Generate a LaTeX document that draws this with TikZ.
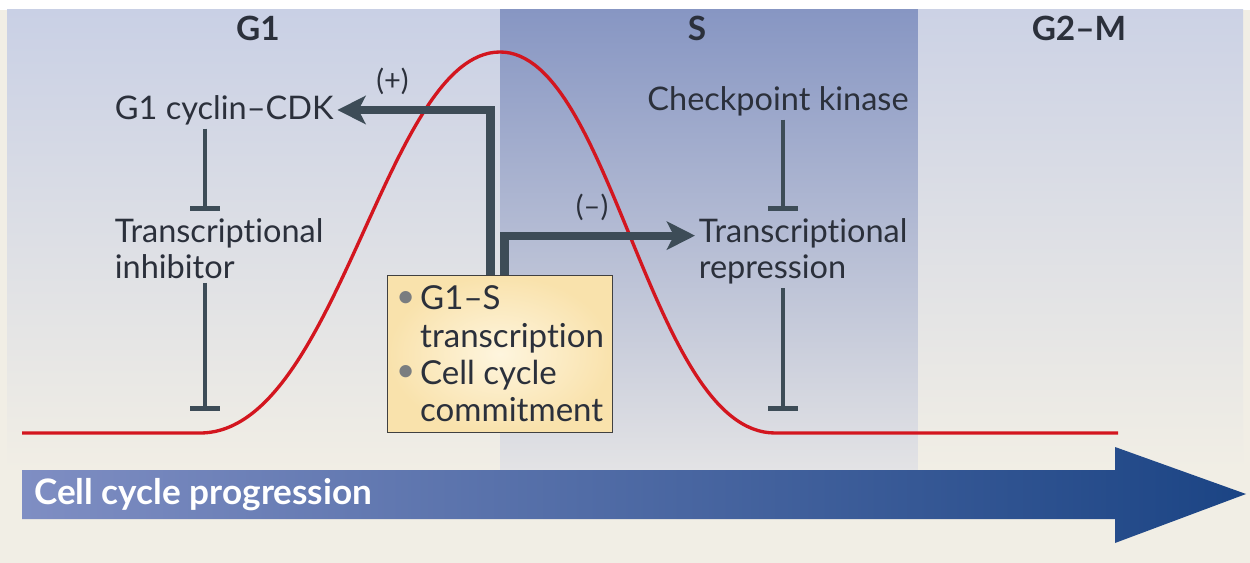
\documentclass[tikz,border=0pt]{standalone}
\usepackage{fontspec}
\setmainfont{Lato}[Ligatures=NoCommon]
\usetikzlibrary{arrows.meta, positioning}

\definecolor{txt}{HTML}{2B303B}
\definecolor{connc}{HTML}{3D4C57}
\definecolor{redc}{HTML}{D3161F}
\definecolor{cream}{HTML}{F1EEE5}
\definecolor{gonetop}{HTML}{C9D0E5}
\definecolor{stop}{HTML}{8796C3}
\definecolor{sbot}{HTML}{E3E3E5}
\definecolor{gtwotop}{HTML}{CCD2E5}
\definecolor{boxin}{HTML}{FEF5DE}
\definecolor{boxout}{HTML}{F9E2AC}
\definecolor{dotgray}{HTML}{7A7D80}
\definecolor{arrl}{HTML}{7F8EC3}
\definecolor{arrr}{HTML}{1B4484}

\newcommand{\gsdot}{\textcolor{dotgray}{\raisebox{0.15ex}{\textbullet}}\hspace{0.15em}}

\begin{document}
\begin{tikzpicture}[x=0.02cm, y=-0.02cm,
        phase/.style={font=\fontsize{19}{21}\selectfont\bfseries, text=txt},
        lbl/.style={font=\fontsize{18.5}{20.5}\selectfont, text=txt,
                    align=left, inner sep=2pt},
        gsbox/.style={rectangle, draw=black!75, line width=0.6pt,
                      inner color=boxin, outer color=boxout, align=left,
                      minimum width=4.5cm, minimum height=3.14cm, text=txt,
                      font=\fontsize{18.8}{21.2}\selectfont},
        conn/.style={draw=connc, line width=4.6pt,
                     -{Stealth[length=16pt, width=16pt, inset=4pt]}},
        inh/.style={draw=connc, line width=2.4pt,
                    -{Bar[width=17pt, line width=3pt]}},
        sign/.style={font=\fontsize{16.5}{18}\selectfont, text=txt},
        prog/.style={font=\fontsize{20}{22}\selectfont\bfseries, text=white}]
      \useasboundingbox (0,0) rectangle (1250,563);
      \fill[white] (0,0) rectangle (1250,563);
      \fill[cream] (0,10) rectangle (1250,563);
      \shade[top color=gonetop, bottom color=cream] (7,10) rectangle (500,470);
      \shade[top color=stop, bottom color=sbot] (500,10) rectangle (918,470);
      \shade[top color=gtwotop, bottom color=cream] (918,10) rectangle (1243,470);

      \node[phase] (g1) at (258,28) {G1};
      \node[phase] (s) at (697,28) {S};
      \node[phase] (g2m) at (1079,28) {G2–M};

      \draw[redc, line width=1.9pt] (22,433) -- (200,433)
        .. controls (338,433) and (385,52) .. (500,52)
        .. controls (612,52) and (650,433) .. (775,433) -- (1118,433);

      \shade[left color=arrl, right color=arrr] (22,470) -- (1115,470)
        -- (1115,447) -- (1246,494) -- (1115,543) -- (1115,519) -- (22,519) -- cycle;
      \node[prog, anchor=west] (ccp) at (28,495) {Cell cycle progression};

      \node[lbl, anchor=west] (cdk) at (111,110) {G1 cyclin–CDK};
      \node[lbl, anchor=north west] (tinh) at (111,215) {Transcriptional\\inhibitor};
      \node[lbl] (chk) at (778,101) {Checkpoint kinase};
      \node[lbl, anchor=north west] (trep) at (695,215) {Transcriptional\\repression};

      \node[gsbox, anchor=north west] (gs) at (387,275)
        {\gsdot G1–S\\\phantom{\gsdot}transcription\\\gsdot Cell cycle\\\phantom{\gsdot}commitment};

      \coordinate (gi) at (205,0);
      \coordinate (si) at (783,0);
      \coordinate (g1low) at (205,411);
      \coordinate (slow) at (783,411);

      \draw[inh] (cdk.south -| gi) -- ([yshift=2pt]tinh.north -| gi);
      \draw[inh] (tinh.south -| gi) -- (g1low);
      \draw[inh] (chk.south -| si) -- ([yshift=2pt]trep.north -| si);
      \draw[inh] (trep.south -| si) -- (slow);

      \draw[conn] ([xshift=-0.19cm]gs.north) |- (cdk.east)
        node[sign, pos=0.82, above=3pt] {(+)};
      \draw[conn] ([xshift=0.09cm]gs.north) |- ([yshift=0.32cm]trep.west)
        node[sign, pos=0.73, above=3pt] {(–)};
    \end{tikzpicture}
\end{document}
